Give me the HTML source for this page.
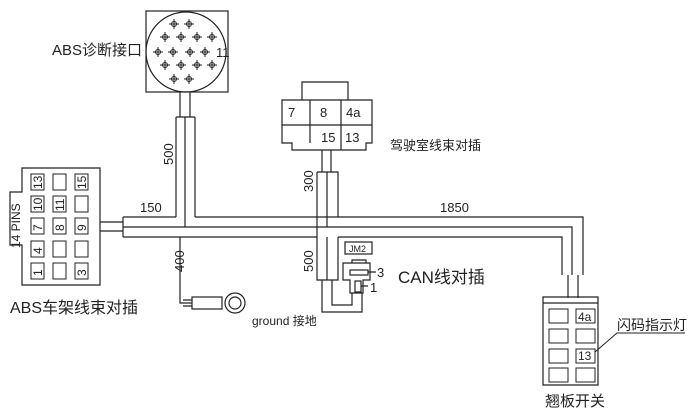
<!DOCTYPE html>
<html><head><meta charset="utf-8"><style>body{margin:0;background:#fff}svg{display:block}</style></head><body>
<svg width="700" height="411" viewBox="0 0 700 411" xmlns="http://www.w3.org/2000/svg" font-family="Liberation Sans, Noto Sans CJK SC, sans-serif" fill="none" stroke="#222" stroke-width="1.2">
<defs><g id="pin" stroke-width="1"><circle r="2.5"/><path d="M-5 0H5M0 -5V5"/></g></defs>
<!-- ABS diag -->
<rect x="146" y="11" width="82" height="81"/>
<circle cx="186" cy="52" r="40"/>
<use href="#pin" x="174" y="24"/><use href="#pin" x="189" y="24"/>
<use href="#pin" x="165" y="37"/><use href="#pin" x="181" y="37"/><use href="#pin" x="197" y="37"/><use href="#pin" x="212" y="37"/>
<use href="#pin" x="158" y="52"/><use href="#pin" x="173" y="52"/><use href="#pin" x="190" y="52"/><use href="#pin" x="205" y="52"/>
<use href="#pin" x="165" y="65"/><use href="#pin" x="181" y="65"/><use href="#pin" x="197" y="65"/><use href="#pin" x="212" y="65"/>
<use href="#pin" x="174" y="79"/><use href="#pin" x="189" y="79"/>
<path d="M180 92V117M190 92V117"/>
<path d="M176 117H195M176 117V217M195 117V217M185 117V227"/>
<!-- main band -->
<path d="M123 217H176M195 217H583V275M123 217V237M123 227H572V275M123 237H317M338 237H562V275M317 217V237"/>
<path d="M100 222H123M100 231H123"/>
<!-- left connector -->
<path d="M22 168H100V285H22V245H10V192H22Z"/>
<g stroke-width="1">
<rect x="31" y="174" width="13" height="16"/><rect x="53" y="174" width="13" height="16"/><rect x="75" y="174" width="13" height="16"/>
<rect x="31" y="196" width="13" height="16"/><rect x="53" y="196" width="13" height="16"/><rect x="75" y="196" width="13" height="16"/>
<rect x="31" y="218" width="13" height="16"/><rect x="53" y="218" width="13" height="16"/><rect x="75" y="218" width="13" height="16"/>
<rect x="31" y="241" width="13" height="16"/><rect x="53" y="241" width="13" height="16"/><rect x="75" y="241" width="13" height="16"/>
<rect x="31" y="263" width="13" height="16"/><rect x="53" y="263" width="13" height="16"/><rect x="75" y="263" width="13" height="16"/>
</g>
<g fill="#222" stroke="none" font-size="12">
<text transform="translate(42,189) rotate(-90)">13</text><text transform="translate(86,189) rotate(-90)">15</text>
<text transform="translate(42,211) rotate(-90)">10</text><text transform="translate(64,211) rotate(-90)">11</text>
<text transform="translate(42,231) rotate(-90)">7</text><text transform="translate(64,231) rotate(-90)">8</text><text transform="translate(86,231) rotate(-90)">9</text>
<text transform="translate(42,254) rotate(-90)">4</text>
<text transform="translate(42,276) rotate(-90)">1</text><text transform="translate(86,276) rotate(-90)">3</text>
<text transform="translate(20,248) rotate(-90)" font-size="12">14 PINS</text>
</g>
<!-- 400 branch -->
<path d="M180 237V303H192M183 300H192M183 306H192"/>
<rect x="192" y="297" width="30" height="12"/>
<circle cx="235" cy="303" r="10"/><circle cx="235" cy="303" r="6"/>
<!-- cab connector -->
<path d="M302 100V82H348V100"/>
<path d="M282 100H372V143H366V150H292V143H282Z"/>
<path d="M282 125H372M310 100V143M341 100V150"/>
<path d="M322 150V172M331 150V172"/>
<path d="M317 172H338V217M317 172V217M327 172V227"/>
<path d="M317 237V280H338V237M327 237V280"/>
<path d="M332 280V305H352V293M322 280V312H362V293"/>
<!-- CAN -->
<rect x="345" y="242" width="27" height="12"/>
<path d="M352 263V260H366V263M343 263H370V280H363V293H350V280H343Z"/>
<rect x="350" y="270" width="18" height="5"/><rect x="355" y="281" width="6" height="11"/>
<path d="M368 272H376M361 286H368"/>
<!-- switch -->
<path d="M568 275V298M578 275V298"/>
<path d="M543 303V297H598V303M543 303H598V385H543Z"/>
<g stroke-width="1">
<rect x="549" y="309" width="19" height="14"/><rect x="576" y="309" width="19" height="14"/>
<rect x="549" y="329" width="19" height="14"/><rect x="576" y="329" width="19" height="14"/>
<rect x="549" y="349" width="19" height="14"/><rect x="576" y="349" width="19" height="14"/>
<rect x="549" y="368" width="19" height="14"/><rect x="576" y="368" width="19" height="14"/>
</g>
<path d="M595 352L617 333H685" stroke-width="1"/>
<!-- texts -->
<g fill="#222" stroke="none">
<text x="216" y="57" font-size="13">11</text>
<text x="52" y="55" font-size="15">ABS诊断接口</text>
<text x="10" y="313" font-size="16">ABS车架线束对插</text>
<text x="140" y="212" font-size="13">150</text>
<text x="440" y="212" font-size="13">1850</text>
<text transform="translate(173,165) rotate(-90)" font-size="13">500</text>
<text transform="translate(184,272) rotate(-90)" font-size="13">400</text>
<text transform="translate(313,192) rotate(-90)" font-size="13">300</text>
<text transform="translate(313,272) rotate(-90)" font-size="13">500</text>
<text x="288" y="117" font-size="13">7</text><text x="320" y="117" font-size="13">8</text><text x="346" y="117" font-size="13">4a</text>
<text x="321" y="142" font-size="13">15</text><text x="345" y="142" font-size="13">13</text>
<text x="390" y="150" font-size="13">驾驶室线束对插</text>
<text x="349" y="252" font-size="9">JM2</text>
<text x="377" y="277" font-size="13">3</text><text x="370" y="292" font-size="13">1</text>
<text x="398" y="283" font-size="17">CAN线对插</text>
<text x="252" y="325" font-size="12">ground 接地</text>
<text x="578" y="321" font-size="12">4a</text><text x="578" y="360" font-size="12">13</text>
<text x="617" y="330" font-size="14">闪码指示灯</text>
<text x="545" y="406" font-size="15">翘板开关</text>
</g>
</svg>
</body></html>
